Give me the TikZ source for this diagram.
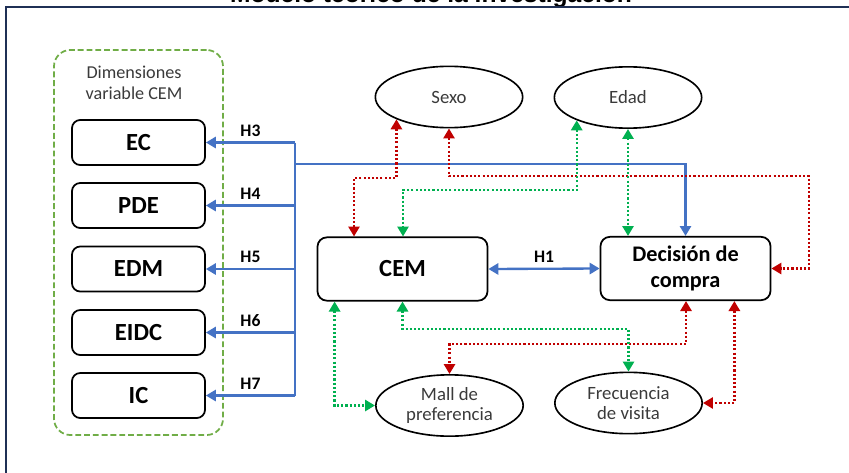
\documentclass[tikz,border=0pt]{standalone}
\usepackage{fontspec}
\setmainfont{Carlito}
\newfontfamily\titlefont{Liberation Sans}
\usetikzlibrary{arrows.meta,calc,shapes.geometric}

\definecolor{linkblue}{HTML}{4472C4}
\definecolor{linkred}{HTML}{C00000}
\definecolor{linkgreen}{HTML}{00B050}
\definecolor{groupgreen}{HTML}{70AD47}
\definecolor{framenavy}{HTML}{1F3055}
\definecolor{softtext}{HTML}{3A3A3A}

\begin{document}
\begin{tikzpicture}[x=0.03cm,y=-0.03cm,
	dimbox/.style={draw,line width=1.5pt,rounded corners=7pt,minimum width=3.99cm,minimum height=1.35cm,font=\fontsize{21}{24}\selectfont\bfseries},
	mainbox/.style={draw,line width=1.5pt,rounded corners=8pt,minimum width=5.1cm,minimum height=1.9cm,align=center},
	oval/.style={ellipse,draw,line width=1.4pt,minimum width=4.42cm,minimum height=1.84cm,inner sep=0pt,align=center,text=softtext,font=\fontsize{16}{17}\selectfont},
	hlabel/.style={font=\fontsize{15}{18}\selectfont\bfseries},
	tip/.tip={Triangle[width=9.5pt,length=8.5pt]},
	bluelink/.style={draw=linkblue,line width=2pt,-tip},
	redlink/.style={draw=linkred,line width=2pt,dash pattern=on 1.8pt off 1.8pt,tip-tip},
	greenlink/.style={draw=linkgreen,line width=2pt,dash pattern=on 1.8pt off 1.8pt,tip-tip}]
	\useasboundingbox (0,0) rectangle (849,472);
	\clip (0,0) rectangle (849,472);
	% Title and frame
	\node[anchor=base,font=\titlefont\bfseries\fontsize{21}{25}\selectfont] (title) at (431,2) {Modelo teórico de la investigación};
	\draw[framenavy,line width=2.2pt] (6,480) -- (6,7) -- (860,7);
	% Dimensions of CEM
	\node[draw=groupgreen,line width=1.5pt,dash pattern=on 5pt off 2.5pt,rounded corners=14pt,minimum width=5.07cm,minimum height=11.55cm] (dims) at (138.5,242.5) {};
	\node[text=softtext,align=center,font=\fontsize{15.5}{18}\selectfont] (dimslabel) at (134,83) {Dimensiones\\variable CEM};
	\node[dimbox] (ec) at (138.5,142.5) {EC};
	\node[dimbox] (pde) at (138.5,205.5) {PDE};
	\node[dimbox] (edm) at (138.5,269) {EDM};
	\node[dimbox] (eidc) at (138.5,332.5) {EIDC};
	\node[dimbox] (ic) at (138.5,395.5) {IC};
	% Main constructs
	\node[mainbox,font=\fontsize{21}{24}\selectfont\bfseries] (cem) at (402.5,269) {CEM};
	\node[mainbox,font=\fontsize{19}{22}\selectfont\bfseries] (dec) at (685.5,268.5) {Decisión de\\compra};
	% Control variables
	\node[oval] (sexo) at (449,97) {Sexo};
	\node[oval] (edad) at (628,97.5) {Edad};
	\node[oval] (mall) at (449.5,405.5) {Mall de\\preferencia};
	\node[oval] (frec) at (628.5,403) {Frecuencia\\de visita};
	% Hypotheses H3-H7
	\coordinate (bus) at (295,164);
	\draw[linkblue,line width=2pt] (bus |- ec.east) -- (bus |- ic.east);
	\draw[bluelink] (bus |- ec.east) -- (ec.east) node[midway,above=1pt,hlabel] {H3};
	\draw[bluelink] (bus |- pde.east) -- (pde.east) node[midway,above=1pt,hlabel] {H4};
	\draw[bluelink] (bus |- edm.east) -- (edm.east) node[midway,above=1pt,hlabel] {H5};
	\draw[bluelink] (bus |- eidc.east) -- (eidc.east) node[midway,above=1pt,hlabel] {H6};
	\draw[bluelink] (bus |- ic.east) -- (ic.east) node[midway,above=1pt,hlabel] {H7};
	\draw[bluelink] (bus) -| (dec.north);
	% Hypothesis H1
	\draw[bluelink,tip-tip] (cem.east) -- (dec.east -| dec.west) node[midway,above=1pt,hlabel] {H1};
	% Sexo
	\coordinate (s1) at (354,178);
	\coordinate (s2) at (809,176);
	\draw[redlink] (sexo.203) |- (s1) -- (s1 |- cem.north);
	\draw[redlink] (sexo.south) |- (s2) |- (dec.east);
	% Edad
	\coordinate (e1) at (403,190);
	\draw[greenlink] (edad.204) |- (e1) -- (e1 |- cem.north);
	\draw[greenlink] (edad.south) -- (edad.south |- dec.north);
	% Mall de preferencia
	\coordinate (m1) at ($(cem.south west)+(18,0)$);
	\coordinate (m2) at (686,344);
	\draw[greenlink] (m1) |- (mall.west);
	\draw[redlink] (m2 |- dec.south) |- (m2) -| (mall.north);
	% Frecuencia de visita
	\coordinate (f1) at (628.5,329);
	\coordinate (f2) at ($(dec.south east)+(-37,0)$);
	\draw[greenlink] (cem.south) |- (f1) -- (frec.north);
	\draw[redlink] (f2) |- (frec.east);
\end{tikzpicture}
\end{document}
